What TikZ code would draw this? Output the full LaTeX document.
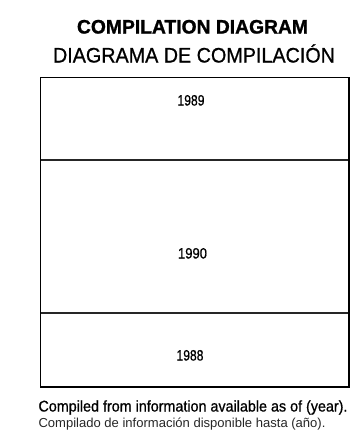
\documentclass[tikz,border=0pt]{standalone}
\usepackage{fontspec}
\setmainfont{Liberation Sans}
\newfontface\medfont{Liberation Sans}[FakeBold=0.8]
\newfontface\heavyfont{Liberation Sans Bold}[FakeBold=1.2]
\usepackage{graphicx}
\tikzset{
  txt/.style={anchor=base, inner sep=0pt, outer sep=0pt},
  frame/.style={line width=1.8pt, draw=black},
  divider/.style={line width=1.1pt, draw=black!85}
}
\newcommand{\fitw}[2]{\resizebox{#1}{\height}{#2}}
\begin{document}
\begin{tikzpicture}[x=1pt,y=-1pt]
\useasboundingbox (0,0) rectangle (351,445);
% title
\node[txt] (title) at (192.5,33.5) {\fitw{231pt}{\fontsize{19.5}{19.5}\heavyfont COMPILATION DIAGRAM}};
\node[txt] (subtitle) at (194,62.5) {\fitw{282pt}{\fontsize{21}{21}\medfont DIAGRAMA DE COMPILACIÓN}};
% frame
\coordinate (tl) at (40.5,77.5);
\coordinate (br) at (349,387);
\coordinate (d1l) at (40.5,160);
\coordinate (d1r) at (349,160);
\coordinate (d2l) at (40.5,313);
\coordinate (d2r) at (349,313);
\draw[divider] (d1l) -- (d1r);
\draw[divider] (d2l) -- (d2r);
\draw[frame] (tl) rectangle (br);
% years
\node[txt] (y1989) at (191,105.5) {\fitw{27pt}{\fontsize{15}{15}\medfont 1989}};
\node[txt] (y1990) at (192.5,258.5) {\fitw{29pt}{\fontsize{15}{15}\medfont 1990}};
\node[txt] (y1988) at (190,360.5) {\fitw{27pt}{\fontsize{15}{15}\medfont 1988}};
% footer
\node[txt, anchor=base west] (foot1) at (38.5,411.5) {\fitw{309pt}{\fontsize{15.5}{15.5}\medfont Compiled from information available as of (year).}};
\node[txt, anchor=base west] (foot2) at (38.5,427) {\fitw{287pt}{\fontsize{13}{13}\selectfont\color{black!85}Compilado de información disponible hasta (año).}};
\end{tikzpicture}
\end{document}
